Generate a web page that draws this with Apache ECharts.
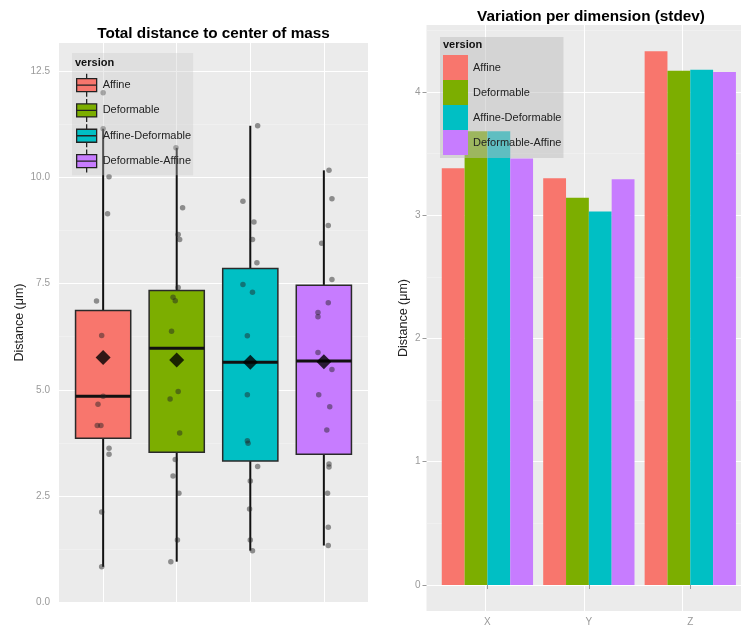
<!DOCTYPE html>
<html>
<head>
<meta charset="utf-8">
<script src="https://cdn.jsdelivr.net/npm/echarts@6/dist/echarts.min.js"></script>
<style>
  html, body { margin: 0; padding: 0; background: #ffffff; }
  #chart { width: 741px; height: 630px; }
</style>
</head>
<body>
<div id="chart"></div>
<script>
// ---- shared categories ----
const versions = ['Affine', 'Deformable', 'Affine-Deformable', 'Deformable-Affine'];
const versionColors = ['#F8766D', '#7CAE00', '#00BFC4', '#C77CFF'];

// ---- left panel: distance to center of mass (box statistics) ----
const whiskerLow    = [0.83, 0.95, 1.21, 1.33];
const lowerQuartile = [3.86, 3.53, 3.32, 3.48];
const medians       = [4.85, 5.98, 5.65, 5.68];
const upperQuartile = [6.87, 7.34, 7.86, 7.46];
const whiskerHigh   = [11.15, 10.70, 11.22, 10.17];
const means         = [5.76, 5.70, 5.65, 5.66];

// individual observations and their horizontal jitter (in category units)
const affineDist  = [12.0, 11.15, 10.02, 9.15, 7.09, 6.28, 4.85, 4.66, 4.16, 4.16, 3.62, 3.48, 2.12, 0.83];
const affineJit   = [0.0, 0.0, 0.08, 0.06, -0.09, -0.02, 0.0, -0.07, -0.08, -0.03, 0.08, 0.08, -0.02, -0.02];
const deformDist  = [10.7, 9.29, 8.66, 8.54, 7.41, 7.18, 7.10, 6.38, 4.96, 4.78, 3.98, 3.36, 2.97, 2.56, 1.46, 0.95];
const deformJit   = [-0.01, 0.08, 0.02, 0.04, 0.02, -0.05, -0.02, -0.07, 0.02, -0.09, 0.04, -0.02, -0.05, 0.03, 0.01, -0.08];
const affDefDist  = [11.22, 9.44, 8.95, 8.54, 7.99, 7.48, 7.30, 6.27, 4.88, 3.80, 3.74, 3.19, 2.85, 2.19, 1.46, 1.21];
const affDefJit   = [0.10, -0.10, 0.05, 0.03, 0.09, -0.10, 0.03, -0.04, -0.04, -0.04, -0.03, 0.10, 0.0, -0.01, 0.0, 0.03];
const defAffDist  = [10.17, 9.5, 8.87, 8.45, 7.6, 7.05, 6.82, 6.72, 5.88, 5.48, 4.88, 4.6, 4.05, 3.25, 3.18, 2.56, 1.76, 1.33];
const defAffJit   = [0.07, 0.11, 0.06, -0.03, 0.11, 0.06, -0.08, -0.08, -0.08, 0.11, -0.07, 0.08, 0.04, 0.07, 0.07, 0.05, 0.06, 0.06];

const leftTicks      = [0, 2.5, 5, 7.5, 10, 12.5];
const leftMinorTicks = [1.25, 3.75, 6.25, 8.75, 11.25];

// ---- right panel: stdev per dimension ----
const dims            = ['X', 'Y', 'Z'];
const stdevAffine     = [3.38, 3.30, 4.33];
const stdevDeformable = [3.68, 3.14, 4.17];
const stdevAffDef     = [3.68, 3.03, 4.18];
const stdevDefAff     = [3.46, 3.29, 4.16];

const rightTicks      = [0, 1, 2, 3, 4];
const rightMinorTicks = [0.5, 1.5, 2.5, 3.5, 4.5];

// ---- build series input from the arrays ----
const groupDist = [affineDist, deformDist, affDefDist, defAffDist];
const groupJit  = [affineJit, deformJit, affDefJit, defAffJit];
const stdevSets = [stdevAffine, stdevDeformable, stdevAffDef, stdevDefAff];

const boxData = versions.map((v, i) => [i + 1, whiskerLow[i], lowerQuartile[i], medians[i], upperQuartile[i], whiskerHigh[i]]);
const meanData = means.map((m, i) => [i + 1, m]);

const FONT = '"Liberation Sans", Arial, Helvetica, sans-serif';
const PANEL = '#EBEBEB';
const GRID_MAJOR = '#FFFFFF';
const GRID_MINOR = '#F3F3F3';
const TICK_GREY = '#9a9a9a';
const BOX_WIDTH = 0.75;

const boxIcon = 'path://M11,0 L11,5 M1,5 L21,5 L21,18 L1,18 Z M1,11.5 L21,11.5 M11,18 L11,23';

function renderBox(params, api) {
  const i = params.dataIndex;
  const x = api.value(0);
  const lo = api.value(1), q1 = api.value(2), med = api.value(3), q3 = api.value(4), hi = api.value(5);
  const half = BOX_WIDTH / 2;
  const tl = api.coord([x - half, q3]);
  const br = api.coord([x + half, q1]);
  const cTop = api.coord([x, hi]);
  const cQ3 = api.coord([x, q3]);
  const cQ1 = api.coord([x, q1]);
  const cLo = api.coord([x, lo]);
  const mL = api.coord([x - half, med]);
  const mR = api.coord([x + half, med]);
  const whiskerStyle = { stroke: '#111111', lineWidth: 2, fill: null };
  return {
    type: 'group',
    children: [
      { type: 'line', shape: { x1: cTop[0], y1: cTop[1], x2: cQ3[0], y2: cQ3[1] }, style: whiskerStyle },
      { type: 'line', shape: { x1: cQ1[0], y1: cQ1[1], x2: cLo[0], y2: cLo[1] }, style: whiskerStyle },
      { type: 'rect', shape: { x: tl[0], y: tl[1], width: br[0] - tl[0], height: br[1] - tl[1] },
        style: { fill: versionColors[i], stroke: '#2a2a2a', lineWidth: 1.5 } },
      { type: 'line', shape: { x1: mL[0], y1: mL[1], x2: mR[0], y2: mR[1] },
        style: { stroke: '#111111', lineWidth: 3 } }
    ]
  };
}

const pointSeries = versions.map((v, i) => ({
  name: v,
  type: 'scatter',
  xAxisIndex: 0,
  yAxisIndex: 0,
  z: 3,
  symbol: 'circle',
  symbolSize: 5.5,
  itemStyle: { color: 'rgba(35,35,35,0.6)', borderWidth: 0 },
  emphasis: { disabled: true },
  data: groupDist[i].map((d, j) => [i + 1 + groupJit[i][j], d])
}));

const barSeries = versions.map((v, i) => ({
  name: v,
  type: 'bar',
  xAxisIndex: 2,
  yAxisIndex: 4,
  barGap: '0%',
  barCategoryGap: '10%',
  itemStyle: { color: versionColors[i] },
  emphasis: { disabled: true },
  data: stdevSets[i]
}));

const hiddenAxis = { show: true, axisLine: { show: false }, axisLabel: { show: false } };

const option = {
  backgroundColor: '#ffffff',
  animation: false,
  textStyle: { fontFamily: FONT },
  title: [
    { text: 'Total distance to center of mass', left: 213.5, top: 26, textAlign: 'center', padding: 0,
      textStyle: { fontFamily: FONT, fontSize: 15.3, fontWeight: 'bold', color: '#000', lineHeight: 16 } },
    { text: 'Variation per dimension (stdev)', left: 591, top: 9, textAlign: 'center', padding: 0,
      textStyle: { fontFamily: FONT, fontSize: 15.3, fontWeight: 'bold', color: '#000', lineHeight: 16 } },
    { text: 'version', left: 75, top: 57, padding: 0, z: 10,
      textStyle: { fontFamily: FONT, fontSize: 11, fontWeight: 'bold', color: '#111', lineHeight: 12 } },
    { text: 'version', left: 443, top: 39, padding: 0, z: 10,
      textStyle: { fontFamily: FONT, fontSize: 11, fontWeight: 'bold', color: '#111', lineHeight: 12 } }
  ],
  legend: [
    {
      orient: 'vertical', left: 72, top: 53, padding: [20, 2, 2, 4],
      backgroundColor: 'rgba(200,200,200,0.35)',
      itemWidth: 22, itemHeight: 23, itemGap: 1,
      selectedMode: false,
      textStyle: { fontFamily: FONT, fontSize: 11, color: '#222' },
      data: versions.map((v, i) => ({
        name: v, icon: boxIcon,
        itemStyle: { color: versionColors[i], borderColor: '#222', borderWidth: 1.3, opacity: 1 }
      }))
    },
    {
      orient: 'vertical', left: 440, top: 37, padding: [18, 2, 3, 3],
      backgroundColor: 'rgba(190,190,190,0.5)',
      itemWidth: 25, itemHeight: 25, itemGap: 0,
      selectedMode: false,
      textStyle: { fontFamily: FONT, fontSize: 11, color: '#222' },
      data: versions.map((v, i) => ({
        name: v, icon: 'rect',
        itemStyle: { color: versionColors[i], borderWidth: 0, opacity: 1 }
      }))
    }
  ],
  grid: [
    { left: 59, top: 43, width: 309, height: 559, show: true, backgroundColor: PANEL, borderWidth: 0 },
    { left: 426.5, top: 25, width: 326.5, height: 586, show: true, backgroundColor: PANEL, borderWidth: 0 },
    { left: 436.7, top: 25, width: 306, height: 586, show: false }
  ],
  xAxis: [
    Object.assign({}, hiddenAxis, {
      type: 'value', gridIndex: 0, min: 0.4, max: 4.6,
      axisTick: { show: false, customValues: versions.map((v, i) => i + 1) },
      splitLine: { show: true, lineStyle: { color: GRID_MAJOR, width: 1 } }
    }),
    Object.assign({}, hiddenAxis, {
      type: 'value', gridIndex: 1, min: 0.4, max: 3.6,
      axisTick: { show: false, customValues: dims.map((d, i) => i + 1) },
      splitLine: { show: true, lineStyle: { color: GRID_MAJOR, width: 1 } }
    }),
    {
      type: 'category', gridIndex: 2, data: dims,
      axisLine: { show: false },
      axisTick: { show: true, alignWithLabel: true, length: 4, lineStyle: { color: TICK_GREY } },
      axisLabel: { show: true, margin: 6, color: TICK_GREY, fontSize: 10, fontFamily: FONT },
      splitLine: { show: false }
    }
  ],
  yAxis: [
    {
      type: 'value', gridIndex: 0, min: 0, max: 13.17,
      axisLine: { show: false },
      axisTick: { show: false, customValues: leftTicks },
      axisLabel: { customValues: leftTicks, margin: 9, color: TICK_GREY, fontSize: 10, fontFamily: FONT,
        formatter: v => Number(v).toFixed(1) },
      splitLine: { show: true, lineStyle: { color: GRID_MAJOR, width: 1 } },
      name: 'Distance (\u03bcm)', nameLocation: 'middle', nameGap: 33, nameRotate: 90,
      nameTextStyle: { fontFamily: FONT, fontSize: 12.5, color: '#222' }
    },
    Object.assign({}, hiddenAxis, {
      type: 'value', gridIndex: 0, min: 0, max: 13.17, position: 'left',
      axisTick: { show: false, customValues: leftMinorTicks },
      splitLine: { show: true, lineStyle: { color: GRID_MINOR, width: 0.6 } }
    }),
    {
      type: 'value', gridIndex: 1, min: -0.211, max: 4.542,
      axisLine: { show: false },
      axisTick: { show: true, length: 4, customValues: rightTicks, lineStyle: { color: TICK_GREY } },
      axisLabel: { customValues: rightTicks, margin: 6, color: TICK_GREY, fontSize: 10, fontFamily: FONT },
      splitLine: { show: true, lineStyle: { color: GRID_MAJOR, width: 1 } },
      name: 'Distance (\u03bcm)', nameLocation: 'middle', nameGap: 16, nameRotate: 90,
      nameTextStyle: { fontFamily: FONT, fontSize: 12.5, color: '#222' }
    },
    Object.assign({}, hiddenAxis, {
      type: 'value', gridIndex: 1, min: -0.211, max: 4.542, position: 'left',
      axisTick: { show: false, customValues: rightMinorTicks },
      splitLine: { show: true, lineStyle: { color: GRID_MINOR, width: 0.6 } }
    }),
    Object.assign({}, hiddenAxis, {
      type: 'value', gridIndex: 2, min: -0.211, max: 4.542,
      axisTick: { show: false },
      splitLine: { show: false }
    })
  ],
  series: [
    {
      name: 'box',
      type: 'custom',
      xAxisIndex: 0,
      yAxisIndex: 0,
      z: 2,
      renderItem: renderBox,
      encode: { x: 0, y: [1, 2, 3, 4, 5] },
      data: boxData
    },
    ...pointSeries,
    {
      name: 'mean',
      type: 'scatter',
      xAxisIndex: 0,
      yAxisIndex: 0,
      z: 4,
      symbol: 'diamond',
      symbolSize: [15, 15],
      itemStyle: { color: '#000000' },
      emphasis: { disabled: true },
      data: meanData
    },
    ...barSeries
  ]
};

const chart = echarts.init(document.getElementById('chart'), null, { renderer: 'canvas' });
chart.setOption(option);
</script>
</body>
</html>
